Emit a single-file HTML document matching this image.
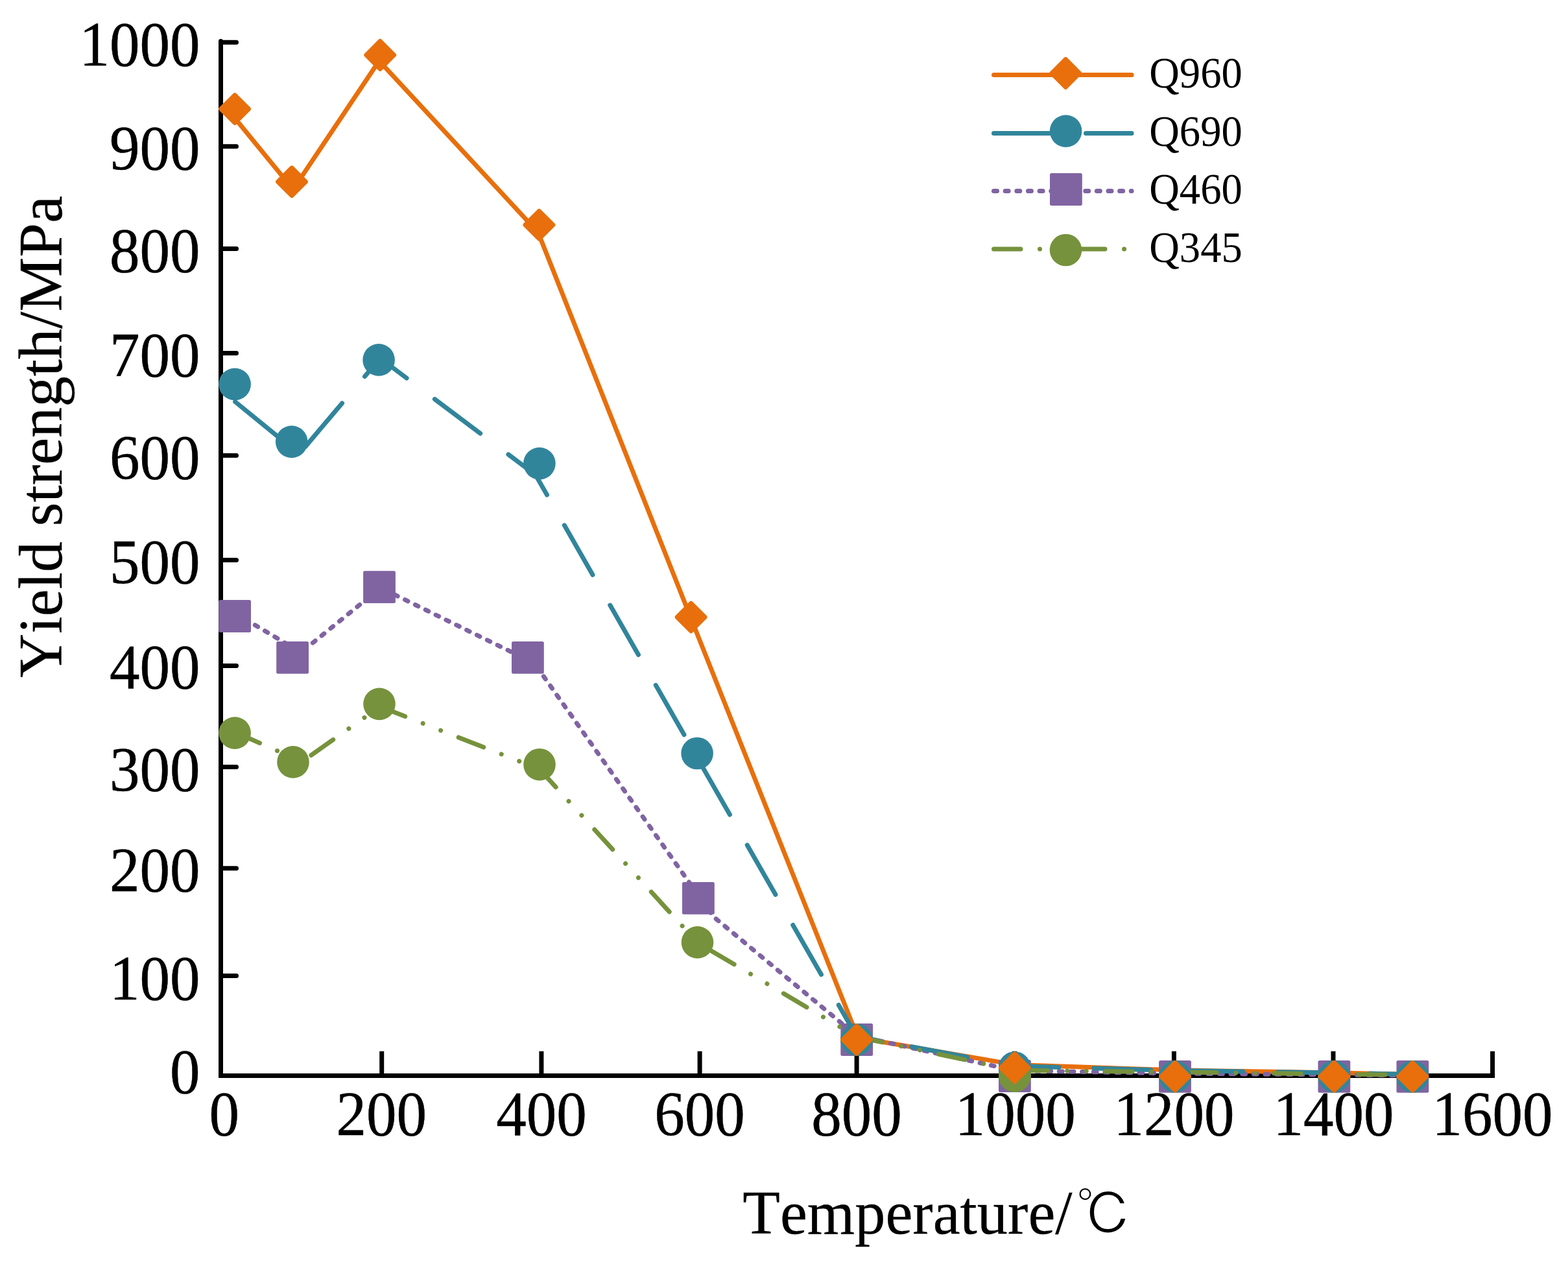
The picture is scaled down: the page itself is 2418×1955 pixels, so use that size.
<!DOCTYPE html>
<html lang="en">
<head>
<meta charset="utf-8">
<title>Yield strength vs temperature</title>
<style>
html,body{margin:0;padding:0;background:#fff;}
body{width:2418px;height:1955px;overflow:hidden;}
svg{display:block;}
</style>
</head>
<body>
<svg width="2418" height="1955" viewBox="0 0 2418 1955">
<rect width="2418" height="1955" fill="#fff"/>
<g stroke="#000" stroke-width="7" fill="none">
<path d="M340.5,63.5 V1658.4" stroke-linecap="round"/>
<path d="M337.0,1658.4 H2305.1" stroke-linecap="butt"/>
<path d="M340.5,65.3 H364.5" stroke-linecap="round"/>
<path d="M340.5,225.7 H364.5" stroke-linecap="round"/>
<path d="M340.5,383.5 H364.5" stroke-linecap="round"/>
<path d="M340.5,544.6 H364.5" stroke-linecap="round"/>
<path d="M340.5,702.3 H364.5" stroke-linecap="round"/>
<path d="M340.5,863.4 H364.5" stroke-linecap="round"/>
<path d="M340.5,1026.5 H364.5" stroke-linecap="round"/>
<path d="M340.5,1182.6 H364.5" stroke-linecap="round"/>
<path d="M340.5,1338.7 H364.5" stroke-linecap="round"/>
<path d="M340.5,1504.6 H364.5" stroke-linecap="round"/>
<path d="M588.7,1661.9 V1620.8" stroke-linecap="butt"/>
<path d="M834.9,1661.9 V1620.8" stroke-linecap="butt"/>
<path d="M1079.1,1661.9 V1620.8" stroke-linecap="butt"/>
<path d="M1321.1,1661.9 V1620.8" stroke-linecap="butt"/>
<path d="M1564.5,1661.9 V1620.8" stroke-linecap="butt"/>
<path d="M1810.4,1661.9 V1620.8" stroke-linecap="butt"/>
<path d="M2056.0,1661.9 V1620.8" stroke-linecap="butt"/>
<path d="M2301.6,1661.9 V1620.8" stroke-linecap="butt"/>
</g>
<g font-family="'Liberation Serif', 'Noto Serif CJK SC', serif" font-size="96.6" fill="#000" stroke="#000" stroke-width="0.5" style="font-kerning:none">
<text transform="translate(308.6,100.8) scale(0.963,1)" text-anchor="end">1000</text>
<text transform="translate(308.6,260.9) scale(0.963,1)" text-anchor="end">900</text>
<text transform="translate(308.6,418.8) scale(0.963,1)" text-anchor="end">800</text>
<text transform="translate(308.6,580.1) scale(0.963,1)" text-anchor="end">700</text>
<text transform="translate(308.6,738.1) scale(0.963,1)" text-anchor="end">600</text>
<text transform="translate(308.6,899.2) scale(0.963,1)" text-anchor="end">500</text>
<text transform="translate(308.6,1061.1) scale(0.963,1)" text-anchor="end">400</text>
<text transform="translate(308.6,1218.9) scale(0.963,1)" text-anchor="end">300</text>
<text transform="translate(308.6,1374.2) scale(0.963,1)" text-anchor="end">200</text>
<text transform="translate(308.6,1540.8) scale(0.963,1)" text-anchor="end">100</text>
<text transform="translate(308.6,1685.2) scale(0.963,1)" text-anchor="end">0</text>
<text transform="translate(345.7,1750.3) scale(0.963,1)" text-anchor="middle">0</text>
<text transform="translate(588.2,1750.3) scale(0.963,1)" text-anchor="middle">200</text>
<text transform="translate(834.9,1750.3) scale(0.963,1)" text-anchor="middle">400</text>
<text transform="translate(1079.1,1750.3) scale(0.963,1)" text-anchor="middle">600</text>
<text transform="translate(1321.1,1750.3) scale(0.963,1)" text-anchor="middle">800</text>
<text transform="translate(1565.8,1750.3) scale(0.963,1)" text-anchor="middle">1000</text>
<text transform="translate(1810.4,1750.3) scale(0.963,1)" text-anchor="middle">1200</text>
<text transform="translate(2056.5,1750.3) scale(0.963,1)" text-anchor="middle">1400</text>
<text transform="translate(2301.6,1750.3) scale(0.963,1)" text-anchor="middle">1600</text>
<text transform="translate(1145.3,1901.9) scale(0.981,1)" font-size="96.2" stroke-width="0.3">Temperature/<tspan font-family="'Liberation Serif', IPAGothic, 'Noto Serif CJK SC', serif" font-size="88" dx="6.1" dy="2.3" stroke="#fff" stroke-width="1.6">℃</tspan></text>
<text transform="translate(95.2,673.5) rotate(-90) scale(0.984,1)" text-anchor="middle" font-size="96.1" stroke-width="0.3">Yield strength/MPa</text>
</g>
<polyline points="362.0,182.0 452.0,292.0 584.7,93.8 829.8,358.4 1065.0,952.0 1323.0,1600.0 1565.0,1641.5 1812.0,1650.0 2057.0,1654.0 2178.0,1656.5" fill="none" stroke="#E86F0C" stroke-width="7" stroke-linecap="round" stroke-linejoin="round"/>
<polyline points="363.0,945.6 464.1,1005.9 586.9,906.3 824.0,1022.5 1100.1,1413.3 1321.0,1597.0 1565.0,1650.6 1812.0,1655.0 2057.0,1657.0 2178.0,1658.0" fill="none" stroke="#8064A2" stroke-width="7" stroke-linecap="round" stroke-linejoin="round" stroke-dasharray="5 12.65"/>
<rect x="337.20" y="925.10" width="49.8" height="49.8" rx="2.5" fill="#8064A2"/>
<rect x="426.20" y="988.90" width="49.8" height="49.8" rx="2.5" fill="#8064A2"/>
<rect x="560.10" y="880.20" width="49.8" height="49.8" rx="2.5" fill="#8064A2"/>
<rect x="789.00" y="989.00" width="49.8" height="49.8" rx="2.5" fill="#8064A2"/>
<rect x="1052.00" y="1360.00" width="49.8" height="49.8" rx="2.5" fill="#8064A2"/>
<rect x="1296.30" y="1578.10" width="49.8" height="49.8" rx="2.5" fill="#8064A2"/>
<rect x="1540.00" y="1634.10" width="49.8" height="49.8" rx="2.5" fill="#8064A2"/>
<rect x="1787.10" y="1634.90" width="49.8" height="49.8" rx="2.5" fill="#8064A2"/>
<rect x="2032.50" y="1634.90" width="49.8" height="49.8" rx="2.5" fill="#8064A2"/>
<rect x="2153.50" y="1634.90" width="49.8" height="49.8" rx="2.5" fill="#8064A2"/>
<polyline points="362.6,619.4 461.3,700.0 586.2,552.3 825.9,732.2 1321.0,1598.0 1565.0,1643.5 1812.0,1650.5 2057.0,1654.0 2178.0,1656.5" fill="none" stroke="#31859B" stroke-width="7" stroke-linecap="round" stroke-linejoin="round" stroke-dasharray="88 54"/>
<polyline points="362.5,1129.0 465.8,1174.3 586.0,1089.4 832.0,1185.9 1075.5,1453.3 1321.0,1598.4 1565.0,1650.3 1812.0,1653.0 2057.0,1656.0 2178.0,1657.5" fill="none" stroke="#76923C" stroke-width="7" stroke-linecap="round" stroke-linejoin="round" stroke-dasharray="41.5 29.5 0.01 29.5 0.01 29.5"/>
<circle cx="362.1" cy="1130.1" r="24.8" fill="#76923C"/>
<circle cx="452.0" cy="1174.9" r="24.8" fill="#76923C"/>
<circle cx="585.0" cy="1085.4" r="24.8" fill="#76923C"/>
<circle cx="832.0" cy="1178.7" r="24.8" fill="#76923C"/>
<circle cx="1075.5" cy="1452.9" r="24.8" fill="#76923C"/>
<circle cx="1321.0" cy="1603.0" r="24.8" fill="#76923C"/>
<circle cx="1564.9" cy="1659.0" r="24.8" fill="#76923C"/>
<circle cx="1812.0" cy="1659.8" r="24.8" fill="#76923C"/>
<circle cx="2057.4" cy="1659.8" r="24.8" fill="#76923C"/>
<circle cx="2178.4" cy="1659.8" r="24.8" fill="#76923C"/>
<circle cx="362.1" cy="592.4" r="24.8" fill="#31859B"/>
<circle cx="449.7" cy="681.1" r="24.8" fill="#31859B"/>
<circle cx="584.1" cy="554.9" r="24.8" fill="#31859B"/>
<circle cx="831.9" cy="714.6" r="24.8" fill="#31859B"/>
<circle cx="1075.1" cy="1161.5" r="24.8" fill="#31859B"/>
<circle cx="1321.0" cy="1603.0" r="24.8" fill="#31859B"/>
<circle cx="1564.7" cy="1646.0" r="24.8" fill="#31859B"/>
<circle cx="1812.0" cy="1659.8" r="24.8" fill="#31859B"/>
<circle cx="2057.4" cy="1659.8" r="24.8" fill="#31859B"/>
<circle cx="2178.4" cy="1659.8" r="24.8" fill="#31859B"/>
<circle cx="1564.9" cy="1659.0" r="24.8" fill="#76923C"/>
<rect x="343.50" y="149.40" width="37.19" height="37.19" rx="3.5" fill="#E86F0C" transform="rotate(45 362.10 168.00)"/>
<rect x="431.40" y="261.60" width="37.19" height="37.19" rx="3.5" fill="#E86F0C" transform="rotate(45 450.00 280.20)"/>
<rect x="567.60" y="66.30" width="37.19" height="37.19" rx="3.5" fill="#E86F0C" transform="rotate(45 586.20 84.90)"/>
<rect x="812.80" y="328.20" width="37.19" height="37.19" rx="3.5" fill="#E86F0C" transform="rotate(45 831.40 346.80)"/>
<rect x="1047.00" y="932.90" width="37.19" height="37.19" rx="3.5" fill="#E86F0C" transform="rotate(45 1065.60 951.50)"/>
<rect x="1302.40" y="1584.40" width="37.19" height="37.19" rx="3.5" fill="#E86F0C" transform="rotate(45 1321.00 1603.00)"/>
<rect x="1546.10" y="1627.60" width="37.19" height="37.19" rx="3.5" fill="#E86F0C" transform="rotate(45 1564.70 1646.20)"/>
<rect x="1793.40" y="1641.20" width="37.19" height="37.19" rx="3.5" fill="#E86F0C" transform="rotate(45 1812.00 1659.80)"/>
<rect x="2038.80" y="1641.20" width="37.19" height="37.19" rx="3.5" fill="#E86F0C" transform="rotate(45 2057.40 1659.80)"/>
<rect x="2159.80" y="1641.20" width="37.19" height="37.19" rx="3.5" fill="#E86F0C" transform="rotate(45 2178.40 1659.80)"/>
<polyline points="1532.5,115.4 1745.1,115.4" fill="none" stroke="#E86F0C" stroke-width="7" stroke-linecap="round" stroke-linejoin="round"/>
<rect x="1624.70" y="94.30" width="37.19" height="37.19" rx="3.5" fill="#E86F0C" transform="rotate(45 1643.30 112.90)"/>
<polyline points="1532.5,205.4 1745.1,205.4" fill="none" stroke="#31859B" stroke-width="7" stroke-linecap="round" stroke-linejoin="round" stroke-dasharray="88 54"/>
<circle cx="1643.6" cy="202.1" r="24.8" fill="#31859B"/>
<polyline points="1532.5,294.6 1745.1,294.6" fill="none" stroke="#8064A2" stroke-width="7" stroke-linecap="round" stroke-linejoin="round" stroke-dasharray="5 12.65"/>
<rect x="1619.00" y="267.10" width="49.8" height="49.8" rx="2.5" fill="#8064A2"/>
<polyline points="1532.5,384.0 1745.1,384.0" fill="none" stroke="#76923C" stroke-width="7" stroke-linecap="round" stroke-linejoin="round" stroke-dasharray="41.5 29.5 0.01 29.5 0.01 29.5"/>
<circle cx="1643.5" cy="385.5" r="24.8" fill="#76923C"/>
<g font-family="'Liberation Serif', serif" font-size="66.9" fill="#000" style="font-kerning:none">
<text transform="translate(1772.2,135.2) scale(0.9655,1)" text-anchor="start">Q960</text>
<text transform="translate(1772.2,225.2) scale(0.9655,1)" text-anchor="start">Q690</text>
<text transform="translate(1772.2,314.4) scale(0.9655,1)" text-anchor="start">Q460</text>
<text transform="translate(1772.2,403.8) scale(0.9655,1)" text-anchor="start">Q345</text>
</g>
</svg>
</body>
</html>
